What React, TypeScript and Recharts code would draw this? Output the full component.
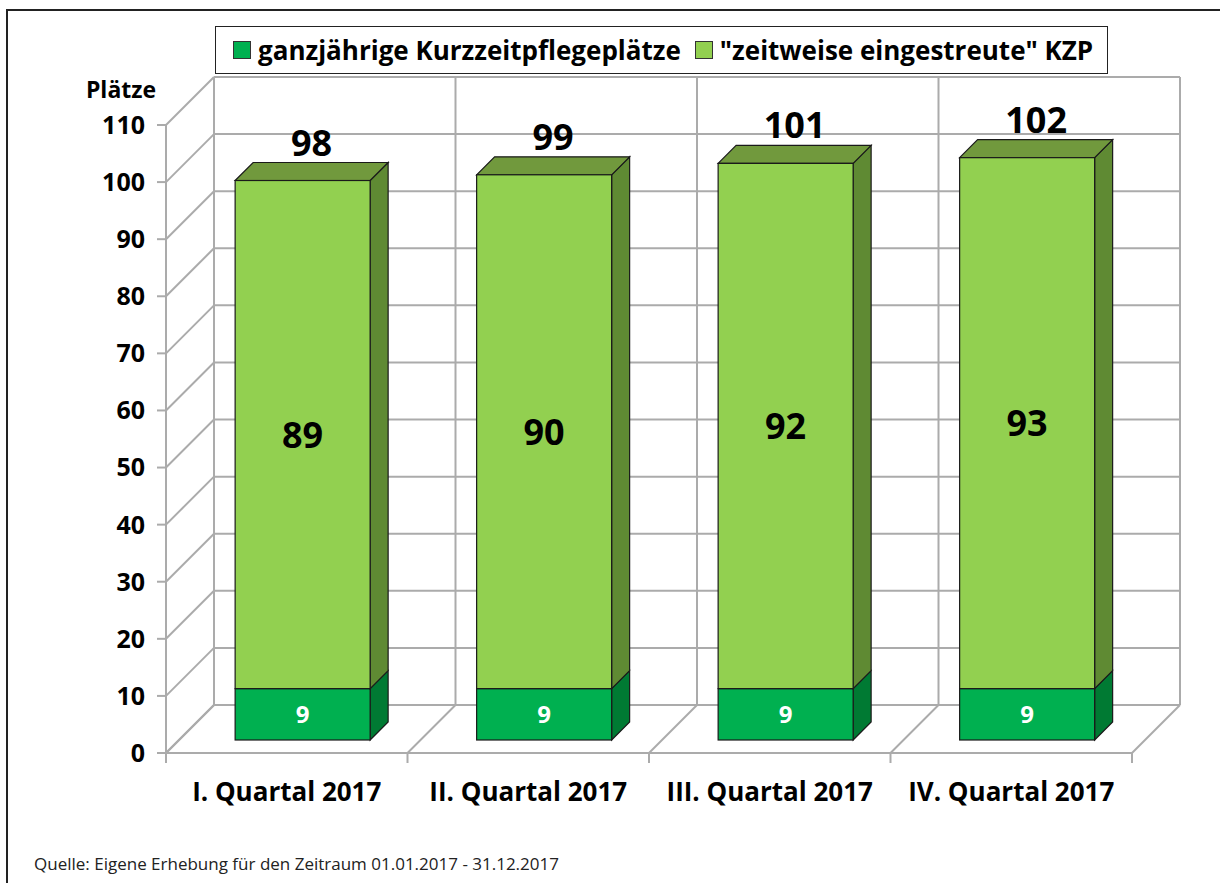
import React from "react";
import { BarChart, Bar, XAxis, YAxis, CartesianGrid } from "recharts";

document.body.style.margin = "0";

const QUARTERS = ["I. Quartal 2017", "II. Quartal 2017", "III. Quartal 2017", "IV. Quartal 2017"];
const GANZ = [9, 9, 9, 9];
const ZEIT = [89, 90, 92, 93];
const Y_TICKS = [0, 10, 20, 30, 40, 50, 60, 70, 80, 90, 100, 110];
const GRID_TICKS = [0, 1, 2, 3, 4];
const SERIES_NAMES = ["ganzjährige Kurzzeitpflegeplätze", "\"zeitweise eingestreute\" KZP"];

const data = QUARTERS.map((q, i) => ({ q, pos: i, ganz: GANZ[i], zeit: ZEIT[i] }));

const FONT = "'Open Sans', sans-serif";
const GRID = "#ABABAB";
const WALL = 48;     // depth of the 3d box
const FRONT_X = 16;  // bar front sits this far into the box
const FRONT_Y = 13;
const DEPTH = 18;    // bar thickness

const DARK = { front: "#00B050", side: "#007A33" };
const LIGHT = { front: "#92D050", side: "#5F8A33", top: "#71993D" };
const OUTLINE = "#1a1a1a";

// back wall + left wall lines for every y tick
const hLine = (p: any) => {
  const { x1, x2, y1 } = p;
  return (
    <g key={`h${p.index}`} stroke={GRID} strokeWidth={2}>
      <line x1={x1} y1={y1} x2={x1 + WALL} y2={y1 - WALL} />
      <line x1={x1 + WALL} y1={y1 - WALL} x2={x2 + WALL} y2={y1 - WALL} />
    </g>
  );
};

// back wall verticals, floor diagonals and the category boundary ticks
const vLine = (p: any) => {
  const { x1, y1, y2 } = p;
  return (
    <g key={`v${p.index}`} stroke={GRID} strokeWidth={2}>
      <line x1={x1 + WALL} y1={y1 - WALL} x2={x1 + WALL} y2={y2 - WALL} />
      <line x1={x1} y1={y2} x2={x1 + WALL} y2={y2 - WALL} />
      <line x1={x1} y1={y2} x2={x1} y2={y2 + 10} />
    </g>
  );
};

const sideFace = (fx: number, fy: number, w: number, h: number) =>
  `${fx + w},${fy} ${fx + w + DEPTH},${fy - DEPTH} ${fx + w + DEPTH},${fy + h - DEPTH} ${fx + w},${fy + h}`;

const BottomBar = (p: any) => {
  const { x, y, width, height, payload } = p;
  const fx = x + FRONT_X, fy = y - FRONT_Y;
  return (
    <g>
      <polygon points={sideFace(fx, fy, width, height)} fill={DARK.side} stroke={OUTLINE} strokeWidth={1.2} />
      <rect x={fx} y={fy} width={width} height={height} fill={DARK.front} stroke={OUTLINE} strokeWidth={1.2} />
      <text x={fx + width / 2} y={fy + height / 2} dy="0.36em" textAnchor="middle"
        fontFamily={FONT} fontWeight={700} fontSize={24} fill="#fff">{payload.ganz}</text>
    </g>
  );
};

const TopBar = (p: any) => {
  const { x, y, width, height, payload } = p;
  const fx = x + FRONT_X, fy = y - FRONT_Y;
  const top = `${fx},${fy} ${fx + DEPTH},${fy - DEPTH} ${fx + width + DEPTH},${fy - DEPTH} ${fx + width},${fy}`;
  return (
    <g>
      <polygon points={sideFace(fx, fy, width, height)} fill={LIGHT.side} stroke={OUTLINE} strokeWidth={1.2} />
      <polygon points={top} fill={LIGHT.top} stroke={OUTLINE} strokeWidth={1.2} />
      <rect x={fx} y={fy} width={width} height={height} fill={LIGHT.front} stroke={OUTLINE} strokeWidth={1.2} />
      <text x={fx + width / 2} y={fy + height / 2} dy="0.36em" textAnchor="middle"
        fontFamily={FONT} fontWeight={700} fontSize={36} fill="#000">{payload.zeit}</text>
      <text x={fx + width / 2 + DEPTH / 2} y={fy - DEPTH - 7} textAnchor="middle"
        fontFamily={FONT} fontWeight={700} fontSize={36} fill="#000">{payload.ganz + payload.zeit}</text>
    </g>
  );
};

export default function App() {
  return (
    <div style={{ position: "relative", width: 1220, height: 883, overflow: "hidden", background: "#fff", fontFamily: FONT }}>
      <BarChart width={1220} height={883} data={data} barCategoryGap="22%"
        margin={{ top: 125, right: 88, bottom: 70, left: 86 }}>
        <XAxis xAxisId="grid" type="number" dataKey="pos" domain={[0, 4]} ticks={GRID_TICKS} hide />
        <CartesianGrid xAxisId="grid" horizontal={hLine} vertical={vLine} />
        <XAxis dataKey="q" interval={0} height={60} tickLine={false} tickSize={10} tickMargin={20}
          axisLine={{ stroke: GRID, strokeWidth: 2 }}
          tick={{ fill: "#000", fontSize: 26, fontWeight: 700, fontFamily: FONT }} />
        <YAxis type="number" domain={[0, 110]} ticks={Y_TICKS} interval={0} width={80}
          tickSize={9} tickMargin={12}
          axisLine={{ stroke: GRID, strokeWidth: 2 }} tickLine={{ stroke: GRID, strokeWidth: 2 }}
          tick={{ fill: "#000", fontSize: 25, fontWeight: 700, fontFamily: FONT }} />
        <Bar dataKey="ganz" stackId="a" fill={DARK.front} shape={BottomBar} isAnimationActive={false} />
        <Bar dataKey="zeit" stackId="a" fill={LIGHT.front} shape={TopBar} isAnimationActive={false} />
      </BarChart>

      <svg width={1220} height={883} style={{ position: "absolute", left: 0, top: 0, pointerEvents: "none" }}>
        <path d="M7 883 V10 H1220" fill="none" stroke="#222" strokeWidth={2} />
        <text x={121} y={98} textAnchor="middle" fontFamily={FONT} fontWeight={700} fontSize={23} fill="#000">Plätze</text>
        <text x={34} y={870} fontFamily={FONT} fontSize={17} fill="#222">
          Quelle: Eigene Erhebung für den Zeitraum 01.01.2017 - 31.12.2017
        </text>
      </svg>

      <div style={{
        position: "absolute", left: 215, top: 26, width: 893, height: 48, boxSizing: "border-box",
        border: "1.5px solid #222", background: "#fff", display: "flex", alignItems: "center",
        paddingLeft: 17, gap: 14,
      }}>
        {SERIES_NAMES.map((name, i) => (
          <div key={name} style={{ display: "flex", alignItems: "center", gap: 7 }}>
            <div style={{ width: 18, height: 18, boxSizing: "border-box", border: "1px solid #333", background: i === 0 ? DARK.front : LIGHT.front }} />
            <span style={{ fontSize: 26, fontWeight: 700, color: "#000", whiteSpace: "nowrap" }}>{name}</span>
          </div>
        ))}
      </div>
    </div>
  );
}
